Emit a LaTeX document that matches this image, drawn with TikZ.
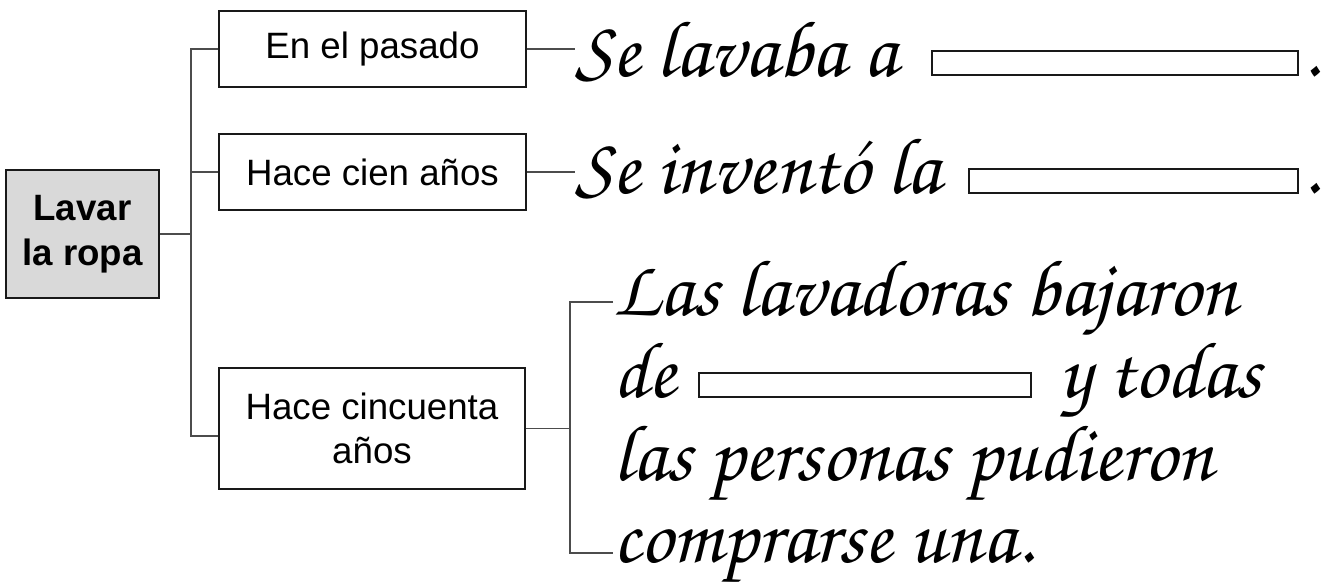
\documentclass[tikz,border=0pt]{standalone}
\usepackage[T1]{fontenc}
\usepackage{fontspec}
\setmainfont{Liberation Sans}
\newcommand\cursiva{\fontencoding{T1}\fontfamily{pzc}\fontseries{mb}\fontshape{it}\fontsize{60}{70}\selectfont}
\begin{document}
\begin{tikzpicture}[x=0.75pt,y=-0.75pt,
  box/.style={draw=black!90, line width=1.1pt, inner sep=0pt, align=center,
    font=\fontsize{27.5}{33}\selectfont},
  conn/.style={draw=black!70, line width=1.1pt},
  cur/.style={anchor=base west, inner sep=0pt, font=\cursiva},
  blank/.style={draw=black!90, line width=0.9pt, inner sep=0pt, minimum height=18pt}]
\useasboundingbox (0,0) rectangle (1330,582);
% left side
\node[box, fill=black!15, minimum width=114.75pt, minimum height=96pt,
  font=\bfseries\fontsize{27.5}{33.75}\selectfont] (lav) at (82.5,234) {Lavar\\la ropa};
\node[box, minimum width=230.25pt, minimum height=57pt] (b1) at (372.5,49) {En el pasado};
\node[box, minimum width=230.25pt, minimum height=57pt] (b2) at (372.5,172) {Hace cien años};
\node[box, minimum width=229.5pt, minimum height=90.75pt] (b3) at (372,428.5) {Hace cincuenta\\años};
\coordinate (tr) at (191,0);
\coordinate (c3) at (191,436);
\draw[conn] (lav.east) -- (lav.east -| tr);
\draw[conn] (b1.west) -- (b1.west -| tr) -- (c3) -- (c3 -| b3.west);
\draw[conn] (b2.west -| tr) -- (b2.west);
% row 1
\node[cur] (t1) at (575,76) {Se lavaba a};
\node[blank, minimum width=274.5pt] (bl1) at (1115,63) {};
\node[cur] (p1) at (1302,76) {.};
\draw[conn] (b1.east) -- (b1.east -| t1.west);
% row 2
\node[cur] (t2) at (575,193) {Se invent\'o la};
\node[blank, minimum width=246.75pt] (bl2) at (1133.5,181) {};
\node[cur] (p2) at (1302,193) {.};
\draw[conn] (b2.east) -- (b2.east -| t2.west);
% row 3
\node[cur] (t3a) at (613,315) {Las lavadoras bajaron};
\node[cur] (t3b) at (613,397) {de};
\node[blank, minimum width=249pt] (bl3) at (865,385) {};
\node[cur] (t3c) at (1059,397) {y todas};
\node[cur] (t3d) at (613,480) {las personas pudieron};
\node[cur] (t3e) at (613,562) {comprarse una.};
\coordinate (bt) at (570,302);
\coordinate (bb) at (570,553);
\draw[conn] (b3.east) -- (b3.east -| bt);
\draw[conn] (bt -| t3a.west) -- (bt) -- (bb) -- (bb -| t3e.west);
\end{tikzpicture}
\end{document}
